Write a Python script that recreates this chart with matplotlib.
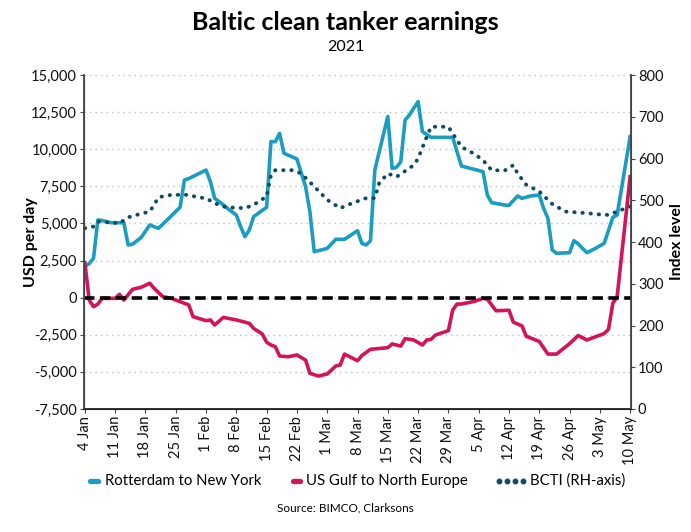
import matplotlib
matplotlib.use('Agg')
import matplotlib.pyplot as plt
from matplotlib.lines import Line2D

plt.rcParams['font.family'] = ['Lato', 'DejaVu Sans']

# days counted from 4 Jan 2021
rtm_days = [0, 1, 2, 3, 4, 6, 9, 10, 11, 13, 15, 16, 17, 19, 22, 23, 24, 28, 29, 30,
            32, 33, 35, 36, 37, 38, 39, 42, 43, 44, 45, 46, 49, 51, 52, 53, 54, 56, 58, 60,
            63, 64, 65, 66, 67, 70, 71, 72, 73, 74, 75, 77, 78, 80, 85, 87, 92, 93, 94, 97,
            98, 100, 101, 103, 105, 106, 107, 108, 109, 112, 113, 114, 116, 118, 120, 122, 123, 126]
rtm_usd = [2100, 2300, 2650, 5230, 5200, 5050, 5050, 3550, 3600, 4050, 4900, 4780, 4670, 5230,
           6090, 7930, 8020, 8600, 7820, 6690, 6250, 6000, 5570, 4780, 4110, 4560, 5460, 6090,
           10510, 10510, 11070, 9730, 9340, 7480, 5790, 3100, 3170, 3320, 3930, 3930, 4510, 3660,
           3550, 3840, 8600, 12200, 8710, 8780, 9160, 11970, 12310, 13210, 11190, 10800, 10800,
           8870, 8490, 6920, 6400, 6240, 6220, 6850, 6690, 6850, 6920, 6020, 5350, 3210, 2990,
           3030, 3840, 3620, 3030, 3320, 3660, 5410, 5570, 10850]

usg_days = [0, 1, 2, 3, 4, 7, 8, 9, 11, 13, 15, 16, 18, 20, 22, 24, 25, 28, 29, 30,
            32, 35, 38, 39, 41, 42, 43, 44, 45, 47, 49, 51, 52, 54, 56, 58, 59, 60, 63, 64,
            66, 70, 71, 73, 74, 76, 78, 79, 80, 81, 84, 85, 86, 87, 90, 92, 93, 95, 98, 99,
            101, 102, 105, 107, 109, 112, 114, 116, 120, 121, 122, 123, 126]
usg_usd = [2360, -160, -610, -430, -45, -45, 225, -160, 560, 700, 970, 630, 70, -45, -270, -490,
           -1280, -1550, -1500, -1840, -1330, -1500, -1730, -2070, -2450, -3000, -3190, -3300,
           -3930, -3980, -3860, -4200, -5100, -5280, -5140, -4600, -4540, -3800, -4250, -3900,
           -3480, -3370, -3120, -3260, -2760, -2850, -3190, -2850, -2810, -2520, -2220, -830,
           -430, -430, -250, -45, -100, -880, -850, -1650, -1900, -2600, -2950, -3800, -3800,
           -3100, -2550, -2850, -2420, -2130, -380, 70, 8150]

bcti_days = [0, 2, 3, 8, 10, 12, 15, 16, 17, 20, 24, 26, 28, 30, 32, 33, 37, 39, 42, 43,
             44, 48, 50, 53, 56, 59, 62, 65, 67, 68, 70, 72, 76, 77, 79, 80, 84, 87, 90, 92,
             94, 97, 99, 100, 102, 105, 108, 111, 116, 120, 121, 123, 126]
bcti_index = [433, 437, 449, 445, 459, 465, 473, 489, 507, 513, 513, 507, 505, 493, 485, 483,
              481, 489, 509, 560, 572, 572, 564, 533, 501, 481, 494, 505, 505, 541, 564, 556,
              584, 600, 652, 676, 676, 628, 611, 596, 572, 571, 584, 564, 537, 521, 491, 473,
              469, 465, 465, 473, 485]

tick_days = list(range(0, 127, 7))
tick_labels = ['4 Jan', '11 Jan', '18 Jan', '25 Jan', '1 Feb', '8 Feb', '15 Feb', '22 Feb',
               '1 Mar', '8 Mar', '15 Mar', '22 Mar', '29 Mar', '5 Apr', '12 Apr', '19 Apr',
               '26 Apr', '3 May', '10 May']
series_names = ['Rotterdam to New York', 'US Gulf to North Europe', 'BCTI (RH-axis)']

BLUE = '#1b9cc1'
PINK = '#d3145a'
NAVY = '#0f4c63'
W, H = 691, 532

fig = plt.figure(figsize=(W / 100, H / 100), dpi=100)
ax = fig.add_axes([84 / W, 1 - 409 / H, 547 / W, 334 / H])
ax2 = ax.twinx()

ax.set_ylim(-7500, 15000)
ax.set_yticks(range(-7500, 15001, 2500))
ax.set_yticklabels([f'{v:,}' for v in range(-7500, 15001, 2500)])
ax2.set_ylim(0, 800)
ax2.set_yticks(range(0, 801, 100))
ax.set_xlim(-0.2, 126.2)
ax.set_xticks(tick_days)
ax.set_xticklabels(tick_labels, rotation=90)

ax.grid(axis='y', linestyle=(0, (1, 3)), color='#bdbdbd', lw=1)
ax.set_axisbelow(True)

ax.plot(rtm_days, rtm_usd, color=BLUE, lw=2.6, solid_joinstyle='round', zorder=3)
ax.plot(usg_days, usg_usd, color=PINK, lw=2.6, solid_joinstyle='round', zorder=3)
ax.axhline(0, color='black', lw=2.6, linestyle=(0, (2.9, 1.5)), zorder=4)
ax2.plot(bcti_days, bcti_index, color=NAVY, lw=2.8, linestyle=(0, (0.1, 2.0)),
         dash_capstyle='round', zorder=2)

for a in (ax, ax2):
    a.spines['top'].set_visible(False)
    a.spines['left'].set_color('#444444')
    a.spines['right'].set_color('#444444')
    a.spines['bottom'].set_color('#222222')
    a.tick_params(labelsize=10.5, length=3, pad=2, color='#444444', labelcolor='#111111')
ax.spines['left'].set_linewidth(1.3)
ax2.spines['right'].set_linewidth(1.3)
ax.spines['bottom'].set_linewidth(1.3)

ax.set_ylabel('USD per day', fontsize=11.5, fontweight='bold')
ax.yaxis.set_label_coords((38 - 84) / 547, 0.5)
ax2.set_ylabel('Index level', fontsize=11.5, fontweight='bold', rotation=90)
ax2.yaxis.set_label_coords((670 - 84) / 547, 0.5)

fig.text(0.5, 1 - 23 / H, 'Baltic clean tanker earnings', ha='center', va='center',
         fontsize=18, fontweight='bold')
fig.text(0.5, 1 - 47 / H, '2021', ha='center', va='center', fontsize=11.5)

# legend drawn by hand so the handles keep the reference's short pill / four-dot look
ly = 1 - 481 / H
fig.add_artist(Line2D([90.5 / W, 97.5 / W], [ly, ly], color=BLUE, lw=3.8,
                      solid_capstyle='round', transform=fig.transFigure))
fig.add_artist(Line2D([292.5 / W, 299.5 / W], [ly, ly], color=PINK, lw=3.8,
                      solid_capstyle='round', transform=fig.transFigure))
fig.add_artist(Line2D([499 / W, 507 / W, 515 / W, 523 / W], [ly] * 4, color=NAVY,
                      lw=0, marker='o', markersize=3.2, transform=fig.transFigure))
for x0, name in zip([105, 306, 530], series_names):
    fig.text(x0 / W, ly, name, ha='left', va='center', fontsize=10.7)

fig.text(0.5, 1 - 508 / H, 'Source: BIMCO, Clarksons', ha='center', va='center', fontsize=8.5)

fig.savefig('out.png', dpi=100)
